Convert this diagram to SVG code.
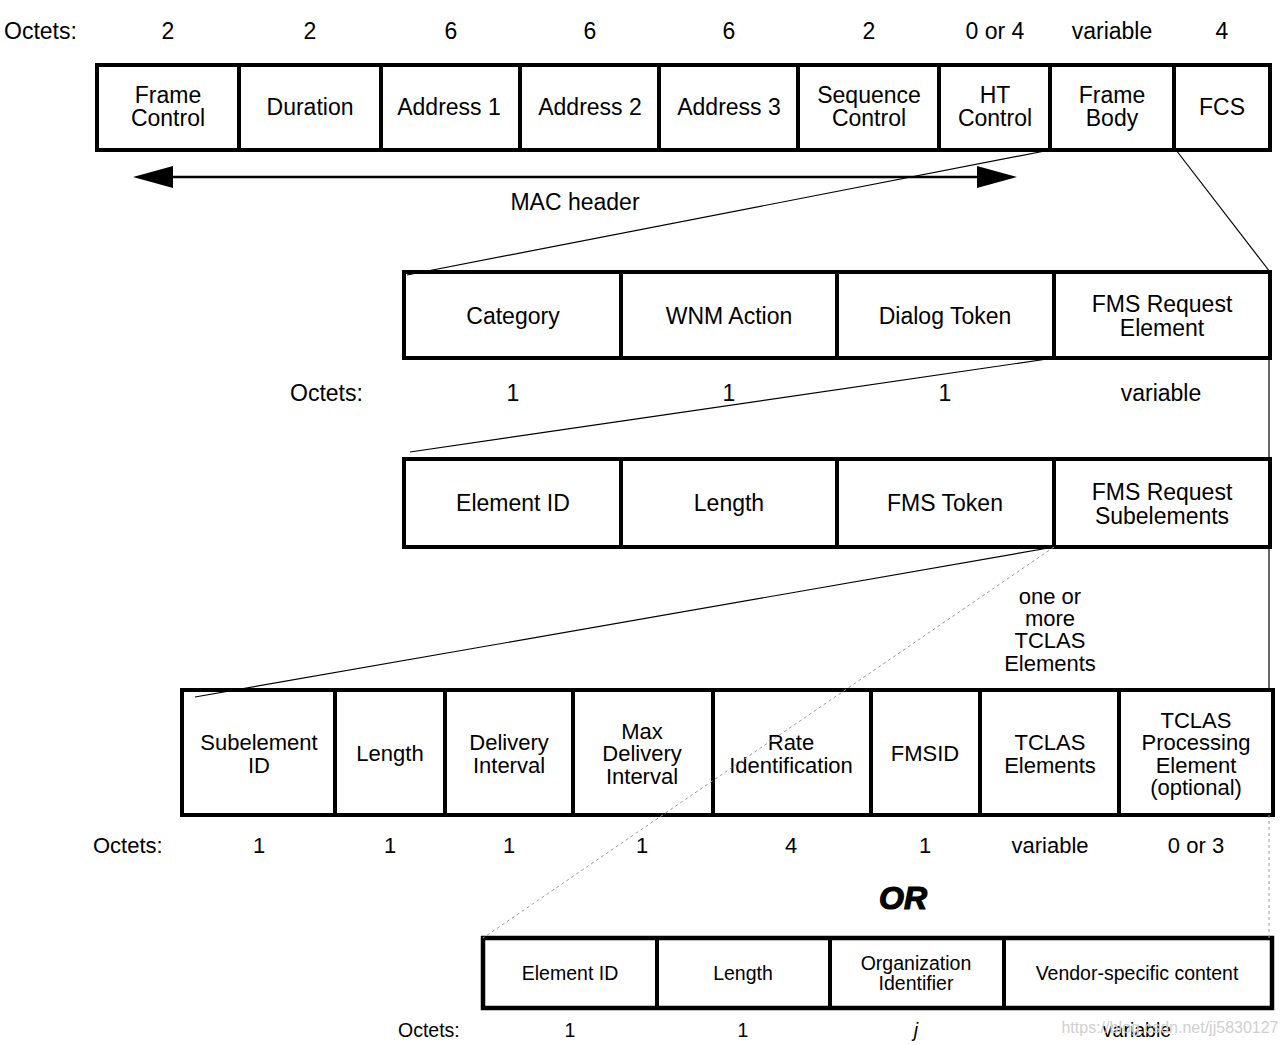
<svg xmlns="http://www.w3.org/2000/svg" width="1287" height="1045" viewBox="0 0 1287 1045">
<style>
text{font-family:"Liberation Sans",Arial,sans-serif;fill:#000;text-anchor:middle}
.t22{font-size:23px}
.t21{font-size:22px}
.t19{font-size:19.5px}
.lft{text-anchor:start}
.box{fill:#fff;stroke:#000;stroke-width:4}
.div{stroke:#000;stroke-width:4}
.thin{stroke:#000;stroke-width:1.2;fill:none}
.dash{stroke:#999;stroke-width:1;stroke-dasharray:3,3;fill:none}
</style>
<rect width="1287" height="1045" fill="#fff"/>

<g id="row1-octets" class="t22">
  <text class="lft" x="4" y="39">Octets:</text>
  <text x="168" y="39">2</text>
  <text x="310" y="39">2</text>
  <text x="451" y="39">6</text>
  <text x="590" y="39">6</text>
  <text x="729" y="39">6</text>
  <text x="869" y="39">2</text>
  <text x="995" y="39">0 or 4</text>
  <text x="1112" y="39">variable</text>
  <text x="1222" y="39">4</text>
</g>

<g id="row1" class="t22">
  <rect class="box" x="97" y="65" width="1173" height="85"/>
  <line class="div" x1="239" y1="65" x2="239" y2="150"/>
  <line class="div" x1="381" y1="65" x2="381" y2="150"/>
  <line class="div" x1="520" y1="65" x2="520" y2="150"/>
  <line class="div" x1="659" y1="65" x2="659" y2="150"/>
  <line class="div" x1="798" y1="65" x2="798" y2="150"/>
  <line class="div" x1="939" y1="65" x2="939" y2="150"/>
  <line class="div" x1="1050" y1="65" x2="1050" y2="150"/>
  <line class="div" x1="1174" y1="65" x2="1174" y2="150"/>
  <text x="168" y="103">Frame</text><text x="168" y="126">Control</text>
  <text x="310" y="115">Duration</text>
  <text x="449" y="115">Address 1</text>
  <text x="590" y="115">Address 2</text>
  <text x="729" y="115">Address 3</text>
  <text x="869" y="103">Sequence</text><text x="869" y="126">Control</text>
  <text x="995" y="103">HT</text><text x="995" y="126">Control</text>
  <text x="1112" y="103">Frame</text><text x="1112" y="126">Body</text>
  <text x="1222" y="115">FCS</text>
</g>

<g id="mac-header" class="t22"><text x="575" y="210">MAC header</text></g>

<g id="row2" class="t22">
  <rect class="box" x="404" y="272" width="866" height="86"/>
  <line class="div" x1="621" y1="272" x2="621" y2="358"/>
  <line class="div" x1="837" y1="272" x2="837" y2="358"/>
  <line class="div" x1="1054" y1="272" x2="1054" y2="358"/>
  <text x="513" y="324">Category</text>
  <text x="729" y="324">WNM Action</text>
  <text x="945" y="324">Dialog Token</text>
  <text x="1162" y="312">FMS Request</text><text x="1162" y="336">Element</text>
</g>
<g id="row2-octets" class="t22">
  <text class="lft" x="290" y="401">Octets:</text>
  <text x="513" y="401">1</text>
  <text x="729" y="401">1</text>
  <text x="945" y="401">1</text>
  <text x="1161" y="401">variable</text>
</g>

<g id="row3" class="t22">
  <rect class="box" x="404" y="459" width="866" height="88"/>
  <line class="div" x1="621" y1="459" x2="621" y2="547"/>
  <line class="div" x1="837" y1="459" x2="837" y2="547"/>
  <line class="div" x1="1054" y1="459" x2="1054" y2="547"/>
  <text x="513" y="511">Element ID</text>
  <text x="729" y="511">Length</text>
  <text x="945" y="511">FMS Token</text>
  <text x="1162" y="500">FMS Request</text><text x="1162" y="524">Subelements</text>
</g>

<g id="tclas-note" class="t21">
  <text x="1050" y="604">one or</text>
  <text x="1050" y="626">more</text>
  <text x="1050" y="648">TCLAS</text>
  <text x="1050" y="671">Elements</text>
</g>

<g id="row4" class="t21">
  <rect class="box" x="182" y="690" width="1091" height="125"/>
  <line class="div" x1="335" y1="690" x2="335" y2="815"/>
  <line class="div" x1="445" y1="690" x2="445" y2="815"/>
  <line class="div" x1="573" y1="690" x2="573" y2="815"/>
  <line class="div" x1="713" y1="690" x2="713" y2="815"/>
  <line class="div" x1="871" y1="690" x2="871" y2="815"/>
  <line class="div" x1="980" y1="690" x2="980" y2="815"/>
  <line class="div" x1="1119" y1="690" x2="1119" y2="815"/>
  <text x="259" y="750">Subelement</text><text x="259" y="773">ID</text>
  <text x="390" y="761">Length</text>
  <text x="509" y="750">Delivery</text><text x="509" y="773">Interval</text>
  <text x="642" y="739">Max</text><text x="642" y="761">Delivery</text><text x="642" y="784">Interval</text>
  <text x="791" y="750">Rate</text><text x="791" y="773">Identification</text>
  <text x="925" y="761">FMSID</text>
  <text x="1050" y="750">TCLAS</text><text x="1050" y="773">Elements</text>
  <text x="1196" y="728">TCLAS</text><text x="1196" y="750">Processing</text><text x="1196" y="773">Element</text><text x="1196" y="795">(optional)</text>
</g>
<g id="row4-octets" class="t21">
  <text class="lft" x="93" y="853">Octets:</text>
  <text x="259" y="853">1</text>
  <text x="390" y="853">1</text>
  <text x="509" y="853">1</text>
  <text x="642" y="853">1</text>
  <text x="791" y="853">4</text>
  <text x="925" y="853">1</text>
  <text x="1050" y="853">variable</text>
  <text x="1196" y="853">0 or 3</text>
</g>

<g id="or-label">
  <text x="903" y="909" style="font-size:32px;font-weight:bold;font-style:italic;stroke:#000;stroke-width:1.2">OR</text>
</g>

<g id="row5" class="t19">
  <rect class="box" x="483" y="938" width="789" height="70" style="stroke-width:4.5"/>
  <line class="div" x1="657" y1="938" x2="657" y2="1008"/>
  <line class="div" x1="830" y1="938" x2="830" y2="1008"/>
  <line class="div" x1="1004" y1="938" x2="1004" y2="1008"/>
  <text x="570" y="980">Element ID</text>
  <text x="743" y="980">Length</text>
  <text x="916" y="970">Organization</text><text x="916" y="990">Identifier</text>
  <text x="1137" y="980">Vendor-specific content</text>
</g>
<g id="row5-octets" class="t19">
  <text class="lft" x="398" y="1037">Octets:</text>
  <text x="570" y="1037">1</text>
  <text x="743" y="1037">1</text>
  <text x="916" y="1037" style="font-style:italic">j</text>
  <text x="1137" y="1037">variable</text>
</g>

<g id="connectors">
  <line class="thin" x1="1050" y1="150" x2="407" y2="275"/>
  <line class="thin" x1="1176" y1="150" x2="1270" y2="272"/>
  <line class="thin" x1="1269" y1="358" x2="1269" y2="690"/>
  <line class="dash" x1="1269" y1="815" x2="1269" y2="938"/>
  <line class="thin" x1="1054" y1="358" x2="410" y2="452"/>
  <line class="thin" x1="1054" y1="547" x2="195" y2="697"/>
  <line class="dash" x1="1054" y1="547" x2="483" y2="938"/>
  <line stroke="#000" stroke-width="2.5" x1="170" y1="177" x2="980" y2="177"/>
  <polygon points="133,177 173,166 173,188" fill="#000"/>
  <polygon points="1017,177 977,166 977,188" fill="#000"/>
</g>

<g id="watermark">
  <text x="1170" y="1033" style="font-size:16px;fill:#d0d0d0">https://blog.csdn.net/jj5830127</text>
</g>
</svg>
